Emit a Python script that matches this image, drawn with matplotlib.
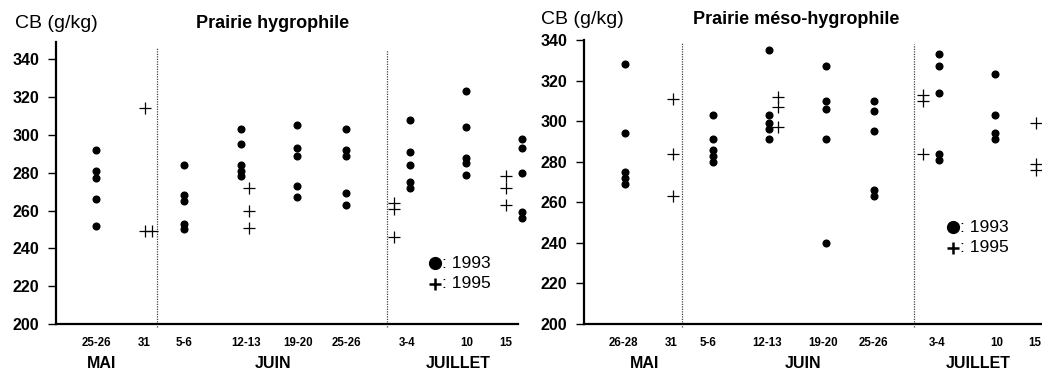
import matplotlib
matplotlib.use("Agg")
import matplotlib.pyplot as plt
from matplotlib.lines import Line2D

plt.rcParams['font.family'] = ['Liberation Sans', 'DejaVu Sans']

# ---------------- data ----------------
dates_left = ["25-26", "31", "5-6", "12-13", "19-20", "25-26", "3-4", "10", "15"]
dates_right = ["26-28", "31", "5-6", "12-13", "19-20", "25-26", "3-4", "10", "15"]
months = ["MAI", "JUIN", "JUILLET"]

# Prairie hygrophile
hyg_1993 = {
    "25-26": [292, 281, 277, 266, 252],
    "5-6": [284, 268, 265, 253, 250],
    "12-13": [303, 295, 284, 281, 278],
    "19-20": [305, 293, 289, 273, 267],
    "25-26b": [303, 292, 289, 269, 263],
    "3-4": [308, 291, 284, 275, 272],
    "10": [323, 304, 288, 285, 279],
    "15": [298, 293, 280, 259, 256],
}
hyg_1995 = {
    "31": [314, 249, 249],
    "12-13": [272, 260, 251],
    "3-4": [264, 261, 246],
    "15": [278, 272, 263],
}

# Prairie meso-hygrophile
meso_1993 = {
    "26-28": [328, 294, 275, 272, 269],
    "5-6": [303, 291, 286, 283, 280],
    "12-13": [335, 303, 299, 296, 291],
    "19-20": [327, 310, 306, 291, 240],
    "25-26b": [310, 305, 295, 266, 263],
    "3-4": [333, 327, 314, 284, 281],
    "10": [323, 303, 294, 291],
}
meso_1995 = {
    "31": [311, 284, 263],
    "12-13": [312, 307, 297],
    "3-4": [313, 310, 284],
    "15": [299, 279, 276],
}

# ---------------- layout (pixel-based horizontal slots) ----------------
W, H = 1042, 374
fig = plt.figure(figsize=(W / 100, H / 100), dpi=100)
fig.patch.set_facecolor("white")

def fx(px):
    return px / W

def fy(py):
    return 1 - py / H

panels = [
    dict(x0=56, x1=518, top=42, ymax=349.1, title="Prairie hygrophile", title_x=273, title_y=24,
         ylab_x=56, ylab_y=23, dates=dates_left,
         tick_x=[96.7, 144, 184, 246, 298, 346, 407, 467, 506],
         month_x=[102, 273, 458], seps=[(157, 48), (387, 50)],
         d93=hyg_1993, d95=hyg_1995,
         x93={"25-26": 96, "5-6": 184.3, "12-13": 240.7, "19-20": 297.3, "25-26b": 345.7,
              "3-4": 409.7, "10": 466, "15": 522},
         x95={"31": 144.7, "12-13": 249, "3-4": 393.7, "15": 506},
         leg=(435, 263, 284)),
    dict(x0=584, x1=1042, top=40, ymax=340, title="Prairie méso-hygrophile", title_x=796, title_y=20,
         ylab_x=582, ylab_y=20, dates=dates_right,
         tick_x=[623, 671.7, 708, 766.7, 823, 873, 936.7, 996.7, 1035],
         month_x=[645, 803, 978], seps=[(682, 43), (914, 44)],
         d93=meso_1993, d95=meso_1995,
         x93={"26-28": 625, "5-6": 713.3, "12-13": 769.3, "19-20": 826, "25-26b": 874.3,
              "3-4": 939, "10": 995.3},
         x95={"31": 673.3, "12-13": 778.3, "3-4": 923, "15": 1035.7},
         leg=(952.7, 227, 248)),
]

bottom_px = 324
for p in panels:
    ax = fig.add_axes([fx(p["x0"]), fy(bottom_px), fx(p["x1"] - p["x0"]),
                       (bottom_px - p["top"]) / H])
    ax.set_xlim(p["x0"], p["x1"])
    ax.set_ylim(200, p["ymax"])
    ax.patch.set_alpha(0)
    for s in ["top", "right"]:
        ax.spines[s].set_visible(False)
    ax.spines["left"].set_linewidth(1.6)
    ax.spines["bottom"].set_linewidth(1.6)
    ax.set_yticks(range(200, 341, 20))
    ax.tick_params(axis="y", direction="out", length=6, width=1.0, pad=6, labelsize=11.5)
    for lbl in ax.get_yticklabels():
        lbl.set_fontweight("bold")
    ax.set_xticks(p["tick_x"])
    ax.set_xticklabels(p["dates"], fontsize=8.3, fontweight="bold")
    ax.tick_params(axis="x", length=0, pad=9)

    # separators
    for sx, sy in p["seps"]:
        ax.plot([sx, sx], [200 - 1.5, 200 + (bottom_px - sy) / (bottom_px - p["top"]) * (p["ymax"] - 200)],
                color="#444444", lw=0.9, ls=(0, (1, 1)), clip_on=False)

    # 1993 dots
    for key, vals in p["d93"].items():
        xs = [p["x93"][key]] * len(vals)
        ax.plot(xs, vals, ls="none", marker="o", ms=4.8, color="black", clip_on=False)
    # 1995 crosses (repeat values shifted right)
    for key, vals in p["d95"].items():
        seen = {}
        xs = []
        for v in vals:
            n = seen.get(v, 0)
            xs.append(p["x95"][key] + 7.5 * n)
            seen[v] = n + 1
        ax.plot(xs, vals, ls="none", marker="+", ms=8, mew=0.9, color="black", clip_on=False)

    # months
    for mx, m in zip(p["month_x"], months):
        fig.text(fx(mx), fy(364), m, ha="center", va="center", fontsize=11.5, fontweight="bold")

    # titles
    fig.text(fx(p["ylab_x"]), fy(p["ylab_y"]), "CB (g/kg)", ha="center", va="center", fontsize=14)
    fig.text(fx(p["title_x"]), fy(p["title_y"]), p["title"], ha="center", va="center",
             fontsize=13, fontweight="bold")

    # legend
    lx, ly1, ly2 = p["leg"]
    fig.add_artist(Line2D([fx(lx)], [fy(ly1)], marker="o", ms=8.5, color="black",
                          transform=fig.transFigure))
    fig.add_artist(Line2D([fx(lx)], [fy(ly2)], marker="+", ms=9, mew=1.8, color="black",
                          transform=fig.transFigure))
    fig.text(fx(lx + 7), fy(ly1), ": 1993", ha="left", va="center", fontsize=12.5)
    fig.text(fx(lx + 7), fy(ly2), ": 1995", ha="left", va="center", fontsize=12.5)

fig.savefig("out.png", dpi=100, facecolor="white")
